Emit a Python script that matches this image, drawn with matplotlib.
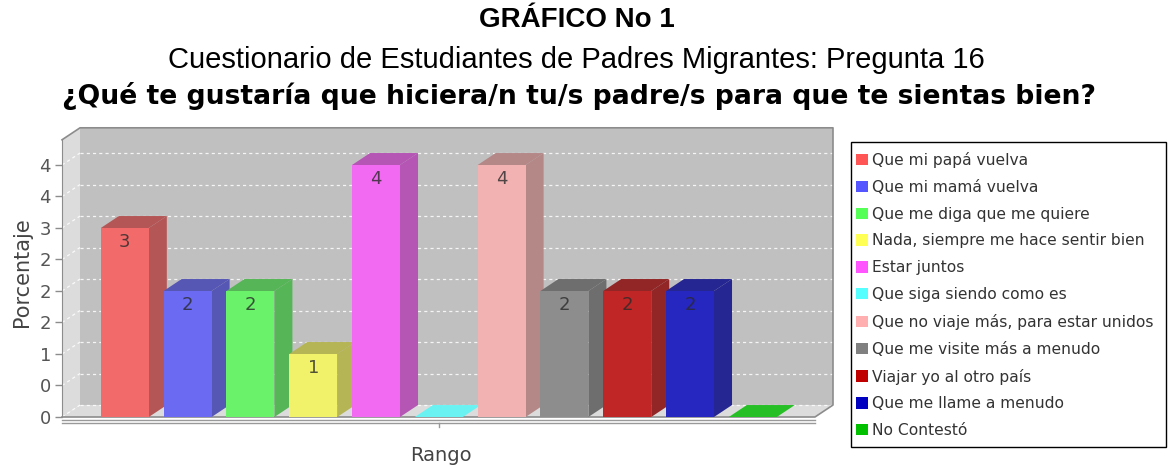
import matplotlib
matplotlib.use('Agg')
import matplotlib.pyplot as plt
from matplotlib.patches import Polygon, Rectangle, Patch
from matplotlib.colors import to_rgb

# chart data
categories = ['Que mi papá vuelva', 'Que mi mamá vuelva', 'Que me diga que me quiere',
              'Nada, siempre me hace sentir bien', 'Estar juntos', 'Que siga siendo como es',
              'Que no viaje más, para estar unidos', 'Que me visite más a menudo',
              'Viajar yo al otro país', 'Que me llame a menudo', 'No Contestó']
values = [3, 2, 2, 1, 4, 0, 4, 2, 2, 2, 0]
series_colors = ['#ff5555', '#5555ff', '#55ff55', '#ffff55', '#ff55ff', '#55ffff',
                 '#ffafaf', '#808080', '#c00000', '#0000c0', '#00c000']
y_ticks = [0, 0.5, 1, 1.5, 2, 2.5, 3, 3.5, 4]
y_tick_labels = ['0', '0', '1', '2', '2', '2', '3', '4', '4']

TITLE = 'GRÁFICO No 1'
SUBTITLE = 'Cuestionario de Estudiantes de Padres Migrantes: Pregunta 16'
QUESTION = '¿Qué te gustaría que hiciera/n tu/s padre/s para que te sientas bien?'

# 3d look (in data units)
DX, DY = 0.287, 0.19
W = 0.764
X_MIN, X_FRONT_MAX = -1.0, 10.99
Y_FRONT_MAX = 4.40
WALL_BG = '#c0c0c0'
SIDE_BG = '#dcdcdc'
EDGE = '#8c8c8c'
TXT = '#444444'


def blend(c, factor=1.0, alpha=0.8, bg=WALL_BG):
    r, g, b = [v * factor for v in to_rgb(c)]
    br, bgc, bb = to_rgb(bg)
    return (alpha * r + (1 - alpha) * br, alpha * g + (1 - alpha) * bgc, alpha * b + (1 - alpha) * bb)


fig = plt.figure(figsize=(11.73, 4.65), dpi=100, facecolor='white')
ax = fig.add_axes([62 / 1173, 48 / 465, (833 - 62) / 1173, (417 - 127) / 465])
ax.set_xlim(X_MIN, X_FRONT_MAX + DX)
ax.set_ylim(0, Y_FRONT_MAX + DY + 0.013)
ax.set_facecolor('none')
for s in ['top', 'right', 'bottom']:
    ax.spines[s].set_visible(False)
ax.spines['left'].set_bounds(0, Y_FRONT_MAX)
ax.spines['left'].set_color(EDGE)
ax.spines['left'].set_position(('data', X_MIN))
ax.set_xticks([])
ax.set_yticks(y_ticks)
ax.set_yticklabels(y_tick_labels, fontsize=13, color='#555555', family='DejaVu Sans')
ax.tick_params(axis='y', length=5, width=1, color=EDGE, pad=3)

top = Y_FRONT_MAX + DY
# back wall, left wall, floor
ax.add_patch(Polygon([(X_MIN + DX, DY), (X_FRONT_MAX + DX, DY), (X_FRONT_MAX + DX, top),
                      (X_MIN + DX, top)], closed=True, facecolor=WALL_BG, edgecolor='none', zorder=1))
ax.add_patch(Polygon([(X_MIN, 0), (X_MIN + DX, DY), (X_MIN + DX, top), (X_MIN, Y_FRONT_MAX)],
                     closed=True, facecolor=SIDE_BG, edgecolor='none', zorder=1))
ax.add_patch(Polygon([(X_MIN, 0), (X_FRONT_MAX, 0), (X_FRONT_MAX + DX, DY), (X_MIN + DX, DY)],
                     closed=True, facecolor=SIDE_BG, edgecolor='none', zorder=1))

# dashed gridlines on the walls
for v in y_ticks:
    ax.plot([X_MIN + DX, X_FRONT_MAX + DX], [v + DY, v + DY], color='white', lw=0.9,
            dashes=(2.5, 2.5), alpha=0.85, zorder=2)
    ax.plot([X_MIN, X_MIN + DX], [v, v + DY], color='white', lw=0.9,
            dashes=(2.5, 2.5), alpha=0.85, zorder=2)

# outline of the box
ax.plot([X_MIN, X_MIN + DX, X_FRONT_MAX + DX, X_FRONT_MAX + DX, X_FRONT_MAX, X_MIN],
        [Y_FRONT_MAX, top, top, DY, 0, 0], color=EDGE, lw=1.2, zorder=2, clip_on=False)

# bars
for i, (v, c) in enumerate(zip(values, series_colors)):
    x0, x1 = i - W / 2, i + W / 2
    z = 3 + i
    if v == 0:
        ax.add_patch(Polygon([(x0, 0), (x1, 0), (x1 + DX, DY), (x0 + DX, DY)], closed=True,
                             facecolor=blend(c), edgecolor='none', zorder=z))
        continue
    ax.add_patch(Polygon([(x1, 0), (x1 + DX, DY), (x1 + DX, v + DY), (x1, v)], closed=True,
                         facecolor=blend(c, 0.7), edgecolor='none', zorder=z))
    ax.add_patch(Polygon([(x0, v), (x1, v), (x1 + DX, v + DY), (x0 + DX, v + DY)], closed=True,
                         facecolor=blend(c, 0.7), edgecolor='none', zorder=z))
    ax.add_patch(Rectangle((x0, 0), W, v, facecolor=blend(c), edgecolor='none', zorder=z))
    ax.text(i, v - 0.22, f'{v:g}', ha='center', va='center', fontsize=13,
            color='#2a2a2a', alpha=0.8, family='DejaVu Sans', zorder=z)

# category axis line and its single tick
for yl in (-0.048, -0.095):
    ax.plot([X_MIN, X_FRONT_MAX], [yl, yl], color='#999999', lw=1, clip_on=False, zorder=2)
ax.plot([(len(values) - 1) / 2] * 2, [-0.095, -0.16], color='#999999', lw=1, clip_on=False)

fig.text(441 / 1173, 1 - 455 / 465, 'Rango', ha='center', va='center', fontsize=14,
         color=TXT, family='DejaVu Sans')
fig.text(22 / 1173, 1 - 272 / 465, 'Porcentaje', ha='center', va='center', fontsize=15,
         color=TXT, rotation=90, family='DejaVu Sans')

# titles
fig.text(577 / 1173, 1 - 20 / 465, TITLE, ha='center', va='center', fontsize=20,
         fontweight='bold', family='Liberation Sans')
fig.text(576 / 1173, 1 - 60 / 465, SUBTITLE, ha='center', va='center', fontsize=21,
         family='Liberation Sans')
fig.text(579 / 1173, 1 - 96 / 465, QUESTION, ha='center', va='center', fontsize=19.2,
         fontweight='bold', family='DejaVu Sans')

# legend: frame drawn separately so its box matches exactly
fig.patches.append(Rectangle((851 / 1173, 1 - 447 / 465), (1166 - 851) / 1173, (447 - 142) / 465,
                             transform=fig.transFigure, facecolor='white', edgecolor='black',
                             lw=1, zorder=0))
handles = [Patch(facecolor=c, edgecolor='none', label=l) for c, l in zip(series_colors, categories)]
leg = fig.legend(handles=handles, loc='upper left', bbox_to_anchor=(856 / 1173, 1 - 152 / 465),
                 bbox_transform=fig.transFigure, frameon=False,
                 prop={'family': 'DejaVu Sans', 'size': 11.2}, handlelength=0.75, handleheight=0.75,
                 handletextpad=0.3, labelspacing=0.76, borderpad=0, borderaxespad=0)
for t in leg.get_texts():
    t.set_color('#333333')

fig.savefig('out.png', dpi=100, facecolor='white')
